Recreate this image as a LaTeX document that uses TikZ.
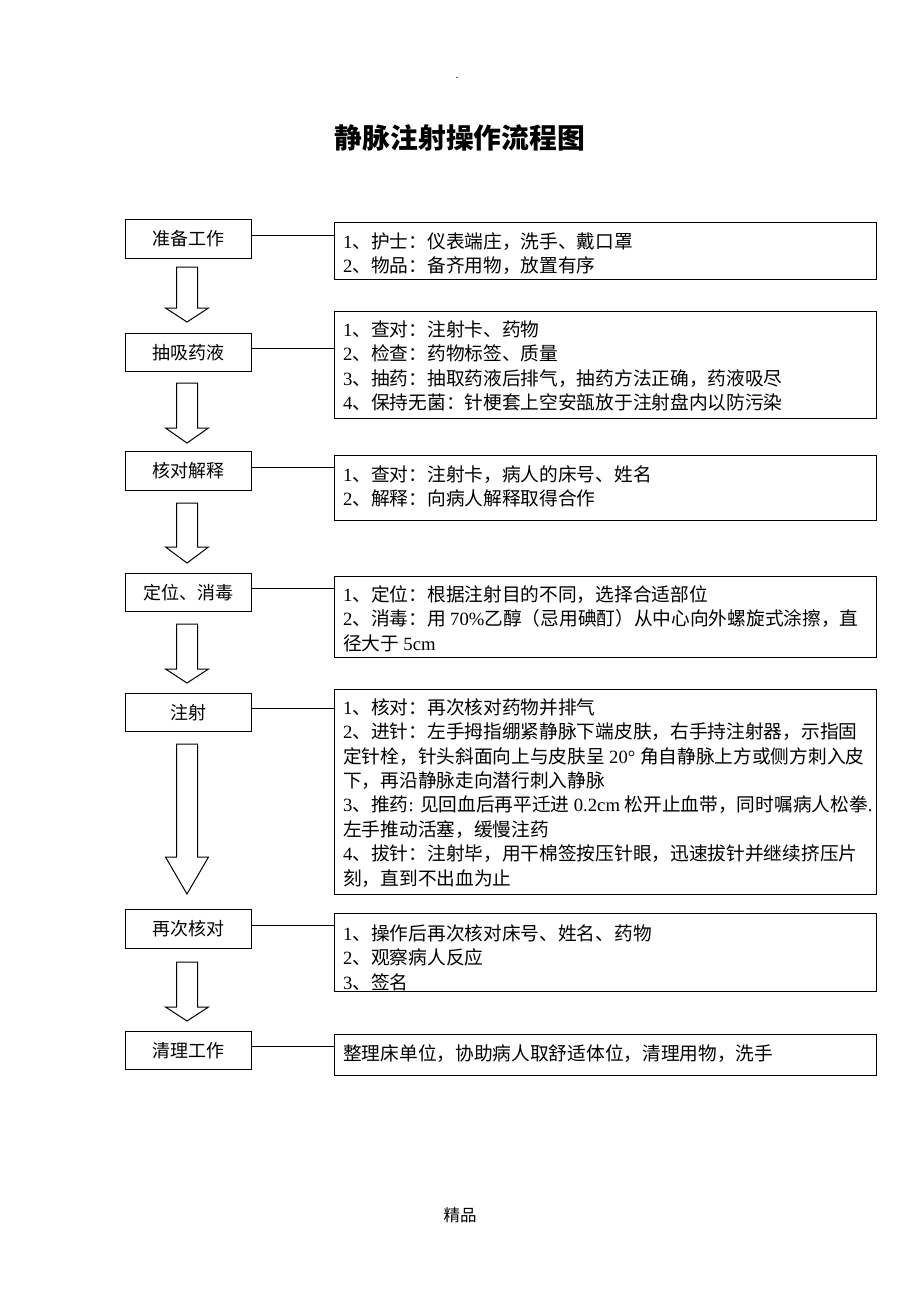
\documentclass[tikz,border=0pt]{standalone}
\usepackage{fontspec}
\setmainfont{Liberation Serif}
\newfontfamily\cjkfont{Noto Sans CJK SC}
\newfontfamily\latinfont{Liberation Serif}
\XeTeXinterchartokenstate=1
\newXeTeXintercharclass\CJKcls
\makeatletter
\def\cjkrange#1#2{\count@=#1\relax
  \loop\ifnum\count@<#2\relax
    \XeTeXcharclass\count@=\CJKcls
    \advance\count@\@ne
  \repeat}
\cjkrange{"3000}{"3040}
\cjkrange{"4E00}{"A000}
\cjkrange{"FF00}{"FFF0}
\makeatother
\XeTeXinterchartoks 0 \CJKcls = {\cjkfont}
\XeTeXinterchartoks 4095 \CJKcls = {\cjkfont}
\XeTeXinterchartoks \CJKcls 0 = {\latinfont}
\XeTeXinterchartoks 4095 0 = {\latinfont}
\newcommand\blockarrow[3]{\draw[barr] (176.5,#1) -- (197.5,#1) -- (197.5,#2) -- (208.5,#2) -- (187,#3) -- (165.5,#2) -- (176.5,#2) -- cycle;}
\begin{document}
\begin{tikzpicture}[x=1pt,y=-1pt,
  box/.style={draw=black,line width=1pt,inner sep=0pt},
  lbox/.style={box,minimum width=126pt,minimum height=38.5pt,font=\fontsize{18}{20}\selectfont},
  rbox/.style={box,anchor=north west,minimum width=542pt},
  tx/.style={anchor=north west,inner sep=0pt,align=left,font=\fontsize{18.7}{24.4}\selectfont},
  conn/.style={line width=1pt},
  barr/.style={draw=black,line width=1pt,fill=white,line join=miter}]
\useasboundingbox[fill=white] (0,0) rectangle (920,1302);

\node[inner sep=0pt,font=\fontsize{12}{14}\selectfont] (dot) at (457,78) {.};
\node[inner sep=0pt,font=\fontsize{27.8}{30}\selectfont\bfseries] (title) at (460,138) {静脉注射操作流程图};
\node[inner sep=0pt,font=\fontsize{16.5}{18}\selectfont] (foot) at (460,1215) {精品};

% left boxes
\node[lbox] (L1) at (188,239) {准备工作};
\node[lbox] (L2) at (188,352.5) {抽吸药液};
\node[lbox] (L3) at (188,471) {核对解释};
\node[lbox] (L4) at (188,592.5) {定位、消毒};
\node[lbox] (L5) at (188,712.5) {注射};
\node[lbox] (L6) at (188,929) {再次核对};
\node[lbox] (L7) at (188,1050.5) {清理工作};

% right boxes
\node[rbox,minimum height=57pt] (R1) at (334,222) {};
\node[rbox,minimum height=107pt] (R2) at (334,311) {};
\node[rbox,minimum height=65pt] (R3) at (334,455) {};
\node[rbox,minimum height=81pt] (R4) at (334,576) {};
\node[rbox,minimum height=205pt] (R5) at (334,689) {};
\node[rbox,minimum height=78pt] (R6) at (334,913) {};
\node[rbox,minimum height=41pt] (R7) at (334,1034) {};

% texts
\node[tx] (T1) at (343,231) {\strut 1、护士：仪表端庄，洗手、戴口罩\\2、物品：备齐用物，放置有序};
\node[tx] (T2) at (343,319) {\strut 1、查对：注射卡、药物\\2、检查：药物标签、质量\\3、抽药：抽取药液后排气，抽药方法正确，药液吸尽\\4、保持无菌：针梗套上空安瓿放于注射盘内以防污染};
\node[tx] (T3) at (343,464) {\strut 1、查对：注射卡，病人的床号、姓名\\2、解释：向病人解释取得合作};
\node[tx] (T4) at (343,584) {\strut 1、定位：根据注射目的不同，选择合适部位\\2、消毒：用 70\%乙醇（忌用碘酊）从中心向外螺旋式涂擦，直\\径大于 5cm};
\node[tx] (T5) at (343,697) {\strut 1、核对：再次核对药物并排气\\
2、进针：左手拇指绷紧静脉下端皮肤，右手持注射器，示指固\\
定针栓，针头斜面向上与皮肤呈 20° 角自静脉上方或侧方刺入皮\\
下，再沿静脉走向潜行刺入静脉\\
3、推药: 见回血后再平迁进 0.2cm 松开止血带，同时嘱病人松拳.\\
左手推动活塞，缓慢注药\\
4、拔针：注射毕，用干棉签按压针眼，迅速拔针并继续挤压片\\
刻，直到不出血为止};
\node[tx] (T6) at (343,923) {\strut 1、操作后再次核对床号、姓名、药物\\2、观察病人反应\\3、签名};
\node[tx] (T7) at (343,1043) {\strut 整理床单位，协助病人取舒适体位，清理用物，洗手};

% connectors
\foreach \i in {1,...,7}{
  \draw[conn] ([yshift=4pt]L\i.east) -- ([yshift=4pt]L\i.east -| R\i.west);
}

% block arrows
\blockarrow{267}{308}{322}
\blockarrow{383}{428}{443}
\blockarrow{503}{547}{563}
\blockarrow{624}{669}{683}
\blockarrow{744}{857}{894}
\blockarrow{962}{1007}{1021}
\end{tikzpicture}
\end{document}
